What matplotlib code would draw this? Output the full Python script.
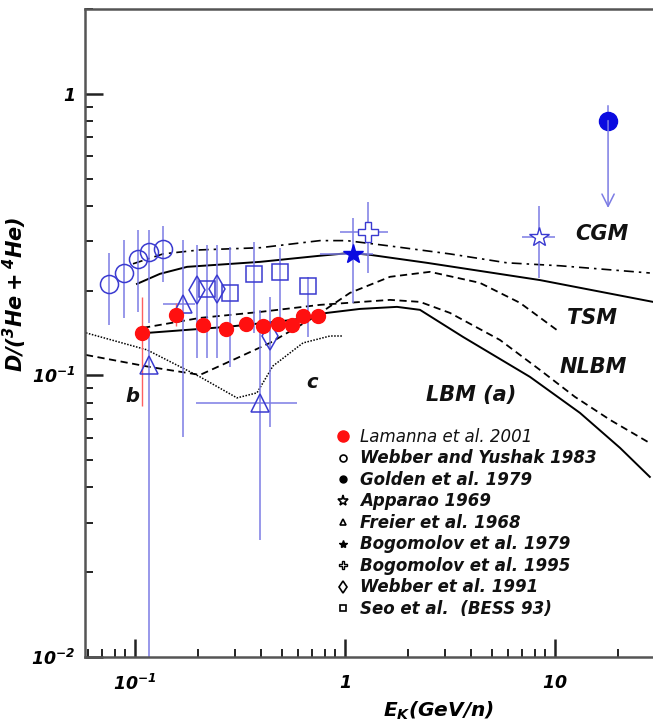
import matplotlib
matplotlib.use("Agg")
import matplotlib.pyplot as plt
from matplotlib.lines import Line2D
from matplotlib.font_manager import FontProperties
import numpy as np

# ---------------- data ----------------
lam_x = [0.108, 0.156, 0.211, 0.270, 0.338, 0.406, 0.478, 0.557, 0.633, 0.746]
lam_y = [0.141, 0.164, 0.151, 0.146, 0.152, 0.150, 0.152, 0.151, 0.163, 0.163]
lam_ylo = [0.078, 0.150, 0.143, 0.138, 0.144, 0.142, 0.144, 0.143, 0.154, 0.154]
lam_yhi = [0.190, 0.180, 0.160, 0.154, 0.160, 0.158, 0.160, 0.159, 0.172, 0.172]

wy_x = [0.0755, 0.089, 0.103, 0.117, 0.136]
wy_y = [0.211, 0.231, 0.260, 0.275, 0.282]
wy_ylo = [0.151, 0.160, 0.168, 0.154, 0.215]
wy_yhi = [0.272, 0.303, 0.329, 0.329, 0.340]

fr_x = [0.117, 0.170, 0.394]
fr_y = [0.109, 0.179, 0.080]
fr_ylo = [0.005, 0.0605, 0.026]
fr_yhi = [0.140, 0.303, 0.170]
fr_xlo = [0.117, 0.136, 0.195]
fr_xhi = [0.117, 0.193, 0.589]

wb_x = [0.198, 0.245, 0.440]
wb_y = [0.201, 0.203, 0.1375]
wb_ylo = [0.115, 0.115, 0.0656]
wb_yhi = [0.291, 0.291, 0.190]

seo_x = [0.2196, 0.2834, 0.370, 0.490, 0.668]
seo_y = [0.203, 0.196, 0.229, 0.232, 0.208]
seo_ylo = [0.115, 0.107, 0.1416, 0.1475, 0.137]
seo_yhi = [0.291, 0.286, 0.298, 0.2836, 0.224]

bg79_x, bg79_y = [1.088], [0.270]
bg79_xlo, bg79_xhi = [0.76], [1.36]
bg79_ylo, bg79_yhi = [0.181], [0.363]

app_x, app_y = [8.39], [0.311]
app_xlo, app_xhi = [6.96], [10.0]
app_ylo, app_yhi = [0.222], [0.401]

bg95_x, bg95_y = [1.283], [0.323]
bg95_xlo, bg95_xhi = [0.947], [1.60]
bg95_ylo, bg95_yhi = [0.231], [0.413]

gold_x, gold_y = 17.9, 0.803
gold_top, gold_limit = 0.902, 0.393

cgm_dd_x = [0.0978, 0.136, 0.204, 0.394, 0.760, 1.02, 1.64, 3.16, 5.91, 10.6, 28.3]
cgm_dd_y = [0.249, 0.270, 0.279, 0.284, 0.301, 0.301, 0.288, 0.270, 0.251, 0.245, 0.231]

cgm_x = [0.1022, 0.1315, 0.177, 0.394, 0.760, 1.056, 1.315, 2.458, 8.48, 29.3]
cgm_y = [0.2113, 0.2294, 0.2429, 0.253, 0.266, 0.272, 0.268, 0.251, 0.218, 0.1824]

tsm_x = [0.0584, 0.1179, 0.204, 0.293, 0.4394, 0.704, 1.056, 1.638, 2.54, 4.39, 6.81, 10.2]
tsm_y = [0.1182, 0.1071, 0.1004, 0.1135, 0.1304, 0.160, 0.1963, 0.2239, 0.2332, 0.2131, 0.181, 0.145]

dot_x = [0.0584, 0.1141, 0.204, 0.306, 0.381, 0.454, 0.631, 0.849, 0.978]
dot_y = [0.1416, 0.1232, 0.0988, 0.0832, 0.0867, 0.108, 0.1304, 0.138, 0.138]

lbm_x = [0.1153, 0.274, 0.565, 0.821, 1.179, 1.769, 2.276, 3.647, 7.60, 13.15, 20.4, 28.3]
lbm_y = [0.1416, 0.1487, 0.1574, 0.1667, 0.1722, 0.1751, 0.1709, 0.1370, 0.0988, 0.0736, 0.0553, 0.0436]

nlbm_x = [0.1092, 0.204, 0.394, 0.760, 1.638, 2.276, 3.16, 5.47, 8.48, 12.45, 18.3, 28.3]
nlbm_y = [0.1475, 0.160, 0.168, 0.178, 0.1854, 0.1824, 0.1667, 0.1336, 0.1046, 0.0839, 0.0695, 0.0575]

legend_labels = ["Lamanna et al. 2001", "Webber and Yushak 1983", "Golden et al. 1979",
                 "Apparao 1969", "Freier et al. 1968", "Bogomolov et al. 1979",
                 "Bogomolov et al. 1995", "Webber et al. 1991", "Seo et al.  (BESS 93)"]

# ---------------- style ----------------
plt.rcParams['font.family'] = ['DejaVu Sans']
plt.rcParams['mathtext.fontset'] = 'custom'
plt.rcParams['mathtext.rm'] = 'DejaVu Sans:bold:italic'
plt.rcParams['mathtext.it'] = 'DejaVu Sans:bold:italic'
plt.rcParams['mathtext.bf'] = 'DejaVu Sans:bold:italic'

W, H = 653, 728
fig = plt.figure(figsize=(W / 100, H / 100), dpi=100)
ax = fig.add_axes([85 / W, 71 / H, 568 / W, 648 / H])
ax.set_xscale('log')
ax.set_yscale('log')
ax.set_xlim(0.0578, 29.3)
ax.set_ylim(0.01, 2.0)

EB = '#7c7ce4'
ME = '#3a3ad0'
FB = '#0a0ae0'

def asym(v, lo, hi):
    v = np.asarray(v); return [v - np.asarray(lo), np.asarray(hi) - v]

# curves
lw = 1.4
ax.plot(cgm_dd_x, cgm_dd_y, color='k', lw=1.2, ls=(0, (6, 3, 1.5, 3)))
ax.plot(cgm_x, cgm_y, color='k', lw=lw, ls='-')
ax.plot(tsm_x, tsm_y, color='k', lw=1.3, ls=(0, (4, 2.5)))
ax.plot(dot_x, dot_y, color='k', lw=1.1, ls=(0, (1, 1.0)))
ax.plot(lbm_x, lbm_y, color='k', lw=lw, ls='-')
ax.plot(nlbm_x, nlbm_y, color='k', lw=1.3, ls=(0, (4, 2.5)))

ekw = dict(ecolor=EB, elinewidth=1.1, capsize=0, ls='none')
# Webber & Yushak open circles
ax.errorbar(wy_x, wy_y, yerr=asym(wy_y, wy_ylo, wy_yhi), marker='o', ms=13,
            mfc='none', mec=ME, mew=1.1, **ekw)
# Freier triangles
ax.errorbar(fr_x, fr_y, yerr=asym(fr_y, fr_ylo, fr_yhi), xerr=asym(fr_x, fr_xlo, fr_xhi),
            marker='^', ms=13, mfc='none', mec=ME, mew=1.1, **ekw)
# Webber 1991 diamonds
ax.errorbar(wb_x, wb_y, yerr=asym(wb_y, wb_ylo, wb_yhi), marker='d', ms=14,
            mfc='none', mec=ME, mew=1.1, **ekw)
# Seo squares
ax.errorbar(seo_x, seo_y, yerr=asym(seo_y, seo_ylo, seo_yhi), marker='s', ms=12,
            mfc='none', mec=ME, mew=1.1, **ekw)
# Bogomolov 1979 filled star
ax.errorbar(bg79_x, bg79_y, yerr=asym(bg79_y, bg79_ylo, bg79_yhi),
            xerr=asym(bg79_x, bg79_xlo, bg79_xhi), marker='*', ms=15,
            mfc=FB, mec=FB, **ekw)
# Apparao open star
ax.errorbar(app_x, app_y, yerr=asym(app_y, app_ylo, app_yhi),
            xerr=asym(app_x, app_xlo, app_xhi), marker='*', ms=15,
            mfc='white', mec=ME, mew=1.0, **ekw)
# Bogomolov 1995 open cross
ax.errorbar(bg95_x, bg95_y, yerr=asym(bg95_y, bg95_ylo, bg95_yhi),
            xerr=asym(bg95_x, bg95_xlo, bg95_xhi), marker='P', ms=15,
            mfc='white', mec=ME, mew=1.0, **ekw)
# Golden upper limit
ax.plot([gold_x, gold_x], [gold_y, gold_top], color=EB, lw=1.1)
ax.annotate('', xy=(gold_x, gold_limit), xytext=(gold_x, gold_y),
            arrowprops=dict(arrowstyle='->', color=EB, lw=1.1, mutation_scale=22,
                            shrinkA=0, shrinkB=0))
ax.plot([gold_x], [gold_y], marker='o', ms=13, color=FB, ls='none')
# Lamanna red dots
ax.errorbar(lam_x, lam_y, yerr=asym(lam_y, lam_ylo, lam_yhi), marker='o', ms=10,
            mfc='#ff1010', mec='#ff1010', ecolor='#ff6060', elinewidth=1.0,
            capsize=0, ls='none')

# curve labels
tkw = dict(fontsize=15, fontweight='bold', fontstyle='italic', ha='center', va='center',
           color='#111111')
ax.text(16.7, 0.318, 'CGM', **tkw)
ax.text(15.0, 0.160, 'TSM', **tkw)
ax.text(15.2, 0.107, 'NLBM', **tkw)
ax.text(3.98, 0.0852, 'LBM (a)', **tkw)
ax.text(0.0968, 0.0839, 'b', **dict(tkw, fontsize=14))
ax.text(0.697, 0.094, 'c', **dict(tkw, fontsize=14))

# legend
handles = [
    Line2D([], [], ls='none', marker='o', ms=8, color='#ff1010'),
    Line2D([], [], ls='none', marker='o', ms=5, mfc='none', mec='k', mew=1.2),
    Line2D([], [], ls='none', marker='o', ms=5, color='k'),
    Line2D([], [], ls='none', marker='*', ms=8, mfc='white', mec='k', mew=1.2),
    Line2D([], [], ls='none', marker='^', ms=5, mfc='none', mec='k', mew=1.2),
    Line2D([], [], ls='none', marker='*', ms=6, color='k'),
    Line2D([], [], ls='none', marker='P', ms=6, mfc='white', mec='k', mew=1.0),
    Line2D([], [], ls='none', marker='d', ms=6, mfc='none', mec='k', mew=1.2),
    Line2D([], [], ls='none', marker='s', ms=5, mfc='none', mec='k', mew=1.2),
]
lp = FontProperties(family='DejaVu Sans', weight='bold', style='italic', size=12)
leg = ax.legend(handles, legend_labels, loc='upper left', bbox_to_anchor=(0.4424, 0.3534),
                frameon=False, prop=lp, handlelength=0.8, handletextpad=0.62,
                labelspacing=0.21, borderpad=0, borderaxespad=0)
leg.get_texts()[0].set_fontweight('normal')
for t in leg.get_texts():
    t.set_color('#111111')

# axes styling
for s in ['top', 'left', 'bottom']:
    ax.spines[s].set_color('#555555')
    ax.spines[s].set_linewidth(1.8)
ax.spines['right'].set_visible(False)
ax.tick_params(which='both', direction='in', top=False, right=False, color='#222222')
ax.tick_params(which='major', length=13, width=1.8)
ax.tick_params(which='minor', length=6, width=1.4)
ax.set_xticks([0.1, 1, 10])
ax.set_xticklabels([r'$10^{-1}$', r'$1$', r'$10$'])
ax.set_yticks([0.01, 0.1, 1])
ax.set_yticklabels([r'$10^{-2}$', r'$10^{-1}$', r'$1$'])
ax.tick_params(axis='x', which='major', pad=12, labelsize=12.5)
ax.tick_params(axis='y', which='major', pad=7, labelsize=12.5)

ax.set_xlabel(r'$E_K(GeV/n)$', fontsize=14.5)
ax.xaxis.set_label_coords(0.623, -0.066)
ax.set_ylabel(r'$D/(^3He+^4He)$', fontsize=15)
ax.yaxis.set_label_coords(-0.098, 0.56)

fig.savefig('out.png', dpi=100)
